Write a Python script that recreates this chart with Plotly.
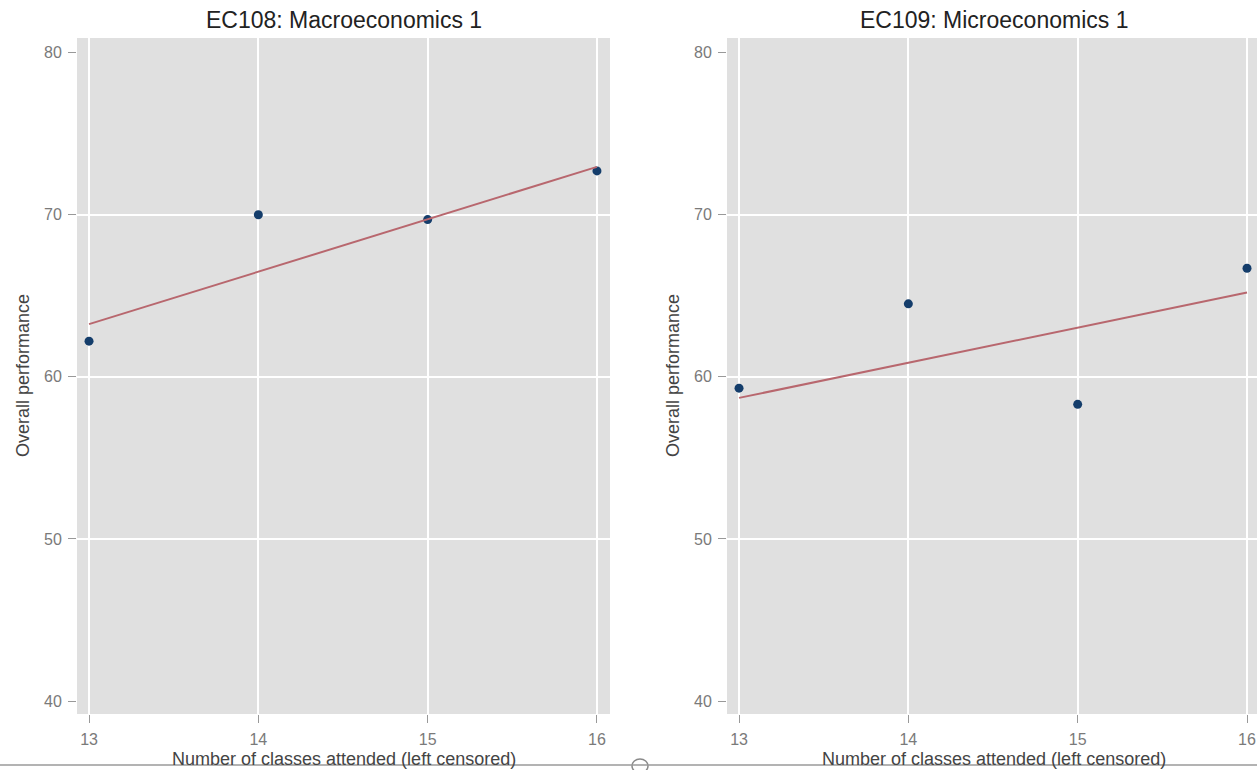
import plotly.graph_objects as go

# Data
classes = [13, 14, 15, 16]
macro_perf = [62.2, 70.0, 69.7, 72.7]
micro_perf = [59.3, 64.5, 58.3, 66.7]
fit_x = [13, 16]
macro_fit = [63.25, 72.95]
micro_fit = [58.7, 65.2]
y_ticks = [40, 50, 60, 70, 80]
y_grid = [50, 60, 70]
x_ticks = [13, 14, 15, 16]
titles = ["EC108: Macroeconomics 1", "EC109: Microeconomics 1"]
x_title = "Number of classes attended (left censored)"
y_title = "Overall performance"

W, H = 1257, 770
MARK = "#143d6b"
LINE = "#b8676e"
BG = "#e0e0e0"
FONT = "Liberation Sans, Arial"

fig = go.Figure()
fig.add_trace(go.Scatter(x=classes, y=macro_perf, mode="markers",
                         marker=dict(color=MARK, size=9), xaxis="x", yaxis="y", showlegend=False))
fig.add_trace(go.Scatter(x=fit_x, y=macro_fit, mode="lines",
                         line=dict(color=LINE, width=2), xaxis="x", yaxis="y", showlegend=False))
fig.add_trace(go.Scatter(x=classes, y=micro_perf, mode="markers",
                         marker=dict(color=MARK, size=9), xaxis="x2", yaxis="y2", showlegend=False))
fig.add_trace(go.Scatter(x=fit_x, y=micro_fit, mode="lines",
                         line=dict(color=LINE, width=2), xaxis="x2", yaxis="y2", showlegend=False))

ydom = [1 - 714 / H, 1 - 38 / H]
dom1 = [77 / W, 610 / W]
dom2 = [727 / W, 1.0]

tickfont = dict(family=FONT, size=16, color="#7a7a7a")
titlefont = dict(family=FONT, size=18, color="#444444")

def xaxis(domain, rng, anchor):
    return dict(domain=domain, range=rng, anchor=anchor, tickvals=x_ticks,
                showgrid=True, gridcolor="white", gridwidth=2, zeroline=False,
                ticks="outside", ticklen=8, tickcolor="#999999", tickwidth=1,
                ticklabelstandoff=3,
                tickfont=tickfont, showline=False)

def yaxis(domain, anchor):
    return dict(domain=domain, range=[39.2, 80.9], anchor=anchor, tickvals=y_ticks,
                showgrid=False, zeroline=False,
                minor=dict(tickvals=y_grid, showgrid=True, gridcolor="white", gridwidth=2, ticks=""),
                ticks="outside", ticklen=8, tickcolor="#999999", tickwidth=1,
                ticklabelstandoff=3,
                tickfont=tickfont, showline=False)

annotations = []
for i, cx in enumerate([(77 + 610) / 2 / W, (727 + 1260) / 2 / W]):
    annotations.append(dict(text=titles[i], x=cx, y=1 - 20 / H, xref="paper", yref="paper",
                            showarrow=False, font=dict(family=FONT, size=23, color="#222222"),
                            xanchor="center", yanchor="middle"))
    annotations.append(dict(text=x_title, x=cx, y=1 - 759 / H, xref="paper", yref="paper",
                            showarrow=False, font=titlefont, xanchor="center", yanchor="middle"))
    annotations.append(dict(text=y_title, x=(23 if i == 0 else 673) / W, y=1 - 376 / H,
                            xref="paper", yref="paper", textangle=-90,
                            showarrow=False, font=titlefont, xanchor="center", yanchor="middle"))

fig.update_layout(
    width=W, height=H,
    margin=dict(l=0, r=0, t=0, b=0),
    paper_bgcolor="white", plot_bgcolor=BG,
    xaxis=xaxis(dom1, [12.929, 16.077], "y"),
    yaxis=yaxis(ydom, "x"),
    xaxis2=xaxis(dom2, [12.929, 16.059], "y2"),
    yaxis2=yaxis(ydom, "x2"),
    font=dict(family=FONT),
    annotations=annotations,
    shapes=[
        dict(type="circle", xref="paper", yref="paper",
             x0=632 / W, x1=648 / W, y0=1 - 773 / H, y1=1 - 759 / H,
             line=dict(color="#8a8a8a", width=1.5), fillcolor="white"),
        dict(type="line", xref="paper", yref="paper", x0=0, x1=1, y0=1 - 765 / H, y1=1 - 765 / H,
             line=dict(color="#9a9a9a", width=1.5)),
    ],
)

fig.write_html("out.html", config={"displayModeBar": False},
               post_script="document.body.style.margin='0px';document.body.style.overflow='hidden';")
